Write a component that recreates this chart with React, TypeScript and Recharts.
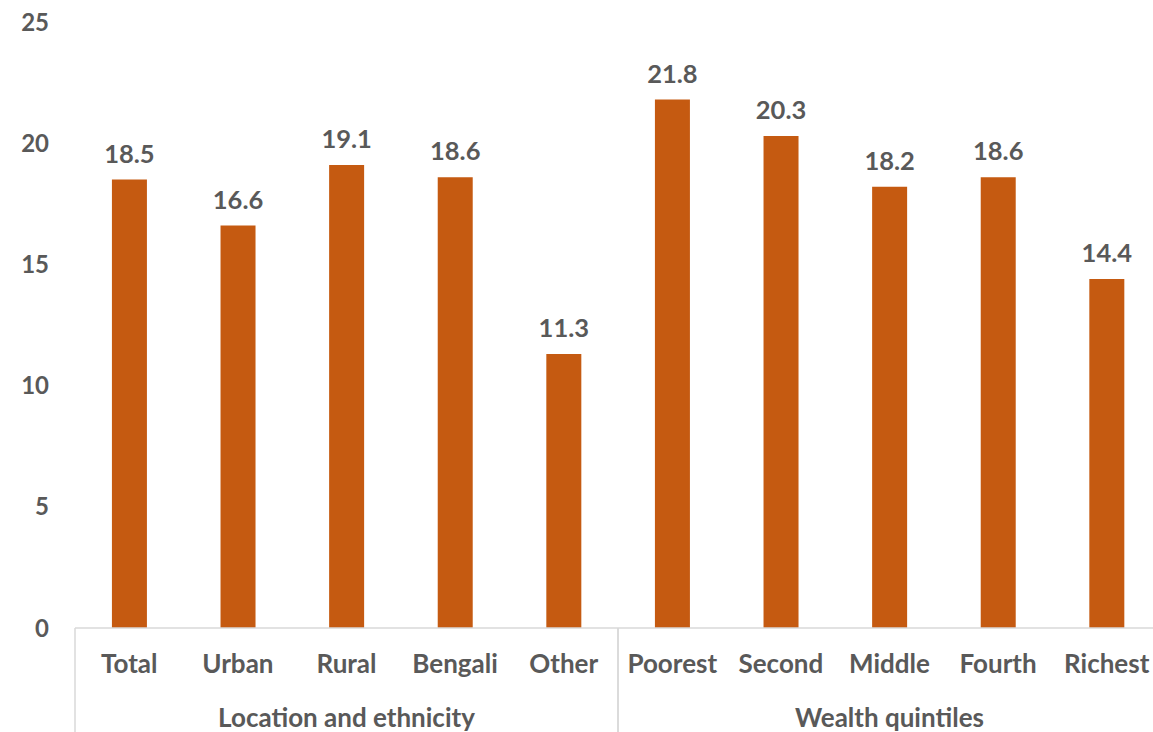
import React from 'react';
import { BarChart, Bar, XAxis, YAxis, LabelList } from 'recharts';

// categories, grouped into two blocks along the axis
const categories = ['Total', 'Urban', 'Rural', 'Bengali', 'Other', 'Poorest', 'Second', 'Middle', 'Fourth', 'Richest'];
const groups = [
  'Location and ethnicity', 'Location and ethnicity', 'Location and ethnicity', 'Location and ethnicity', 'Location and ethnicity',
  'Wealth quintiles', 'Wealth quintiles', 'Wealth quintiles', 'Wealth quintiles', 'Wealth quintiles',
];
const values = [18.5, 16.6, 19.1, 18.6, 11.3, 21.8, 20.3, 18.2, 18.6, 14.4];
const yTicks = [0, 5, 10, 15, 20, 25];

const data = categories.map((name, i) => ({ name, group: groups[i], value: values[i] }));

const W = 1165;
const H = 732;
const Y_AXIS_W = 75;
const RIGHT = 4;
const CAT_AXIS_H = 54;
const GROUP_AXIS_H = 50;
const plotW = W - Y_AXIS_W - RIGHT;
const groupBand = plotW / new Set(groups).size;

const TEXT = '#595959';
const GRID = '#D9D9D9';
const FONT = 'Lato, "Open Sans", sans-serif';

const YTick = (props: any) => (
  <text x={49} y={props.y} dy="0.36em" textAnchor="end" fill={TEXT}
    fontFamily={FONT} fontWeight={700} fontSize={24}>
    {props.payload.value}
  </text>
);

const CatTick = (props: any) => (
  <text x={props.x} y={props.y + 45} textAnchor="middle" fill={TEXT}
    fontFamily={FONT} fontWeight={700} fontSize={26}>
    {props.payload.value}
  </text>
);

// group label plus the vertical dividers on either side of the group
const GroupTick = (props: any) => {
  const left = props.x - groupBand / 2;
  const right = props.x + groupBand / 2;
  const top = props.y - CAT_AXIS_H;
  return (
    <g>
      <line x1={left} x2={left} y1={top} y2={H} stroke={GRID} strokeWidth={1.5} />
      <line x1={right} x2={right} y1={top} y2={H} stroke={GRID} strokeWidth={1.5} />
      <text x={props.x} y={props.y + 45} textAnchor="middle" fill={TEXT}
        fontFamily={FONT} fontWeight={700} fontSize={26}>
        {props.payload.value}
      </text>
    </g>
  );
};

export default function App() {
  return (
    <div style={{ position: 'fixed', left: 0, top: 0, width: 1153, height: H, overflow: 'hidden', background: '#fff' }}>
      <BarChart width={W} height={H} data={data}
        margin={{ top: 22, right: RIGHT, bottom: 0, left: 0 }}
        barCategoryGap="34%">
        <YAxis domain={[0, 25]} ticks={yTicks} width={Y_AXIS_W}
          axisLine={false} tickLine={false} tick={<YTick />} />
        <XAxis dataKey="name" height={CAT_AXIS_H} tickSize={0} tickMargin={0}
          axisLine={{ stroke: GRID, strokeWidth: 1.5 }} tickLine={false}
          interval={0} tick={<CatTick />} />
        <XAxis xAxisId="group" dataKey="group" allowDuplicatedCategory={false}
          height={GROUP_AXIS_H} tickSize={0} tickMargin={0}
          axisLine={false} tickLine={false} interval={0} tick={<GroupTick />} />
        <Bar dataKey="value" fill="#C55A11" isAnimationActive={false}>
          <LabelList dataKey="value" position="top" offset={17} fill={TEXT}
            fontFamily={FONT} fontWeight={700} fontSize={25.5}
            formatter={(v: any) => Number(v).toFixed(1)} />
        </Bar>
      </BarChart>
    </div>
  );
}
